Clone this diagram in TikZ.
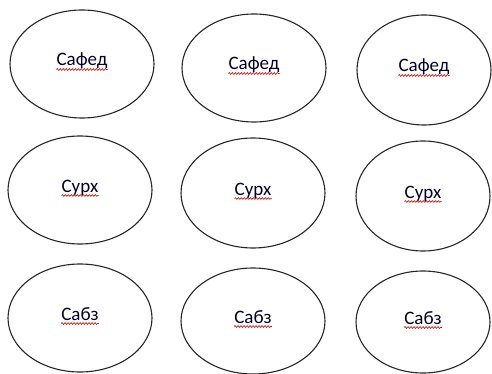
\documentclass[tikz,border=0pt]{standalone}
\usepackage{fontspec}
\setmainfont{Carlito}
\usetikzlibrary{shapes.geometric,decorations.pathmorphing}
\tikzset{
  oval/.style={draw=black!85, line width=1.1pt, ellipse, inner sep=0pt},
  word/.style={font=\fontsize{19}{22}\selectfont, text=black!85!blue, inner sep=0pt, anchor=base},
  squig/.style={draw=red!85!black, line width=0.6pt, decorate, decoration={snake, amplitude=0.9pt, segment length=3pt}}
}
\newcommand{\ovalword}[6]{%
  \node[oval, minimum width=#3pt, minimum height=#4pt] (#1) at (#2) {};
  \node[word] (#5) at ([yshift=-2pt]#1.center) {#6};
  \draw[squig] ([yshift=-3.5pt]#5.base west) -- ([yshift=-3.5pt]#5.base east);
}
\begin{document}
\begin{tikzpicture}[x=1pt,y=-1pt]
\useasboundingbox (0,0) rectangle (492,374);
\ovalword{e1}{82,64}{144}{108}{t1}{Сафед}
\ovalword{e2}{254,68}{144}{108}{t2}{Сафед}
\ovalword{e3}{424,70}{134}{110}{t3}{Сафед}
\ovalword{e4}{80,190}{144}{108}{t4}{Сурх}
\ovalword{e5}{253,193}{144}{110}{t5}{Сурх}
\ovalword{e6}{423,196}{134}{110}{t6}{Сурх}
\ovalword{e7}{80,318}{144}{108}{t7}{Сабз}
\ovalword{e8}{253,321}{144}{106}{t8}{Сабз}
\ovalword{e9}{423,322}{134}{102}{t9}{Сабз}
\end{tikzpicture}
\end{document}
